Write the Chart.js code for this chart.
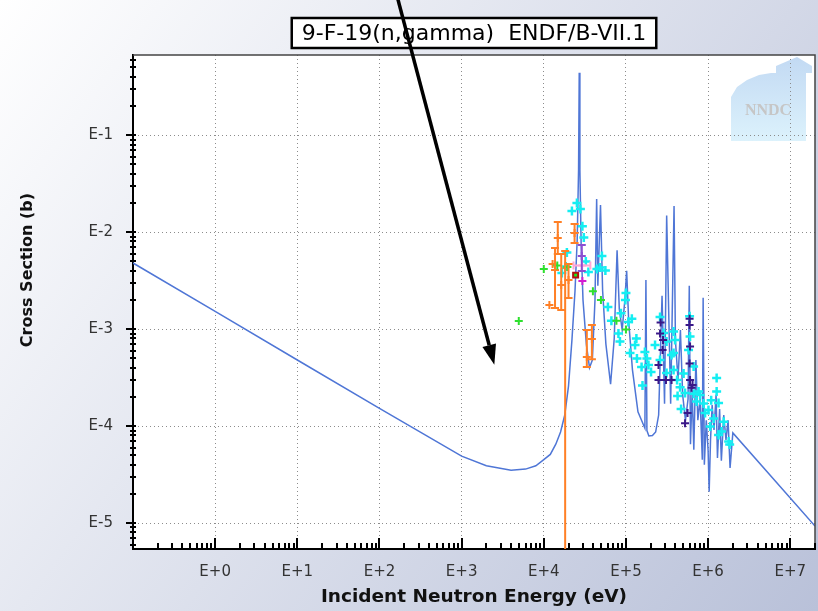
<!DOCTYPE html>
<html>
<head>
<meta charset="utf-8">
<title>9-F-19(n,gamma) ENDF/B-VII.1</title>
<script src="https://cdn.jsdelivr.net/npm/chart.js@4.4.1/dist/chart.umd.min.js"></script>
<style>
  html, body { margin: 0; padding: 0; background: #fff; }
  canvas { display: block; }
</style>
</head>
<body>
<canvas id="xs" width="818" height="611"></canvas>
<script>
// evaluated capture cross section (eV, barns)
const endfE = [0.1, 1, 10, 100, 1000, 2000, 4000, 6000, 8000, 1.0e4, 1.2e4, 1.4e4, 1.6e4, 1.8e4,
  2.0e4, 2.2e4, 2.4e4, 2.55e4, 2.65e4, 2.7e4, 2.75e4, 2.85e4, 3.0e4, 3.3e4, 3.6e4, 3.9e4, 4.2e4,
  4.4e4, 4.55e4, 4.9e4, 5.2e4, 5.7e4, 6.5e4, 7.2e4, 7.8e4, 8.3e4, 9.0e4, 9.7e4, 1.02e5, 1.08e5,
  1.2e5, 1.4e5, 1.7e5, 1.75e5, 1.8e5, 1.9e5, 2.1e5, 2.3e5, 2.5e5, 2.75e5, 2.95e5, 3.13e5, 3.5e5,
  3.85e5, 4.0e5, 4.3e5, 4.6e5, 4.9e5, 5.3e5, 5.7e5, 5.9e5, 6.1e5, 6.4e5, 6.7e5, 7.1e5, 7.5e5,
  8.0e5, 8.5e5, 8.7e5, 9.0e5, 9.5e5, 1.0e6, 1.03e6, 1.07e6, 1.12e6, 1.18e6, 1.25e6, 1.3e6, 1.38e6,
  1.45e6, 1.55e6, 1.65e6, 1.75e6, 1.85e6, 2.0e6, 2.0e7];
const endfXS = [4.8e-3, 1.52e-3, 4.8e-4, 1.52e-4, 4.9e-5, 3.9e-5, 3.5e-5, 3.6e-5, 3.9e-5, 4.5e-5, 5.1e-5, 6.5e-5, 8.7e-5, 1.3e-4,
  2.6e-4, 7.7e-4, 2.5e-3, 8.3e-3, 4.4e-2, 4.4e-1, 4.4e-2, 7.4e-3, 2.0e-3, 6.9e-4, 4.0e-4, 4.8e-4, 2.0e-3,
  2.2e-2, 2.8e-3, 1.9e-2, 2.5e-3, 7.0e-4, 2.7e-4, 8.0e-4, 6.5e-3, 1.6e-3, 9.8e-4, 2.0e-3, 4.0e-3, 1.2e-3,
  3.8e-4, 1.4e-4, 9.5e-5, 3.2e-3, 9.0e-5, 7.9e-5, 8.0e-5, 8.7e-5, 1.3e-4, 2.2e-3, 1.7e-4, 1.48e-2, 1.7e-4,
  1.86e-2, 7.7e-4, 3.0e-4, 9.8e-4, 2.1e-4, 1.15e-4, 1.9e-4, 2.8e-3, 6.5e-5, 2.3e-4, 5.7e-5, 4.8e-4, 1.15e-4,
  1.9e-4, 4.5e-5, 2.1e-3, 4.0e-5, 1.15e-4, 5.6e-5, 2.1e-5, 7.2e-5, 1.65e-4, 9.1e-5, 2.1e-4, 4.7e-5, 1.5e-4,
  4.4e-5, 1.3e-4, 7.2e-5, 1.15e-4, 3.7e-5, 8.5e-5, 9.3e-6];

// measurements (EXFOR)
const orangeE  = [1.17e4, 1.28e4, 1.37e4, 1.48e4, 1.63e4, 1.82e4, 2.0e4, 2.37e4, 3.34e4, 3.85e4];
const orangeXS = [1.77e-3, 4.68e-3, 4.06e-3, 8.67e-3, 2.84e-3, 4.26e-3, 3.2e-3, 9.77e-3, 5.14e-4, 7.9e-4];
const orangeLo = [null, null, 1.65e-3, 5.93e-3, 1.57e-3, 0, 2.09e-3, 7.7e-3, 4.06e-4, 4.9e-4];
const orangeHi = [null, null, 6.84e-3, 1.27e-2, 5.93e-3, 6.37e-3, 4.68e-3, 1.21e-2, 9.77e-4, 1.1e-3];

const violetE = [2.9e4], violetXS = [5.66e-3], violetLo = [3.96e-3], violetHi = [7.35e-3];
const pinkE = [2.93e4], pinkXS = [4.53e-3], pinkELo = [2.3e4], pinkEHi = [3.69e4];
const magentaE = [2.95e4], magentaXS = [3.13e-3];
const limeE = [2.44e4], limeXS = [3.6e-3];

const greenE  = [4.96e3, 1.0e4, 1.46e4, 1.94e4, 3.96e4, 4.96e4, 7.66e4, 1.0e5];
const greenXS = [1.21e-3, 4.16e-3, 4.52e-3, 4.36e-3, 2.46e-3, 1.99e-3, 1.22e-3, 9.88e-4];

const cyanE = [2.53e4, 2.2e4, 2.79e4, 2.95e4, 3.07e4, 1.91e4, 3.25e4, 3.49e4, 4.43e4, 5.10e4, 5.62e4, 4.82e4,
  1.66e4, 1.85e4, 6.03e4, 1.0e5, 9.86e4, 6.65e4, 8.69e4, 1.18e5, 1.07e5, 8.10e4, 8.45e4, 1.34e5, 1.29e5,
  1.12e5, 1.70e5, 1.80e5, 1.36e5, 2.60e5, 2.87e5, 3.12e5, 3.59e5, 1.88e5, 1.55e5, 1.59e5, 3.80e5, 3.96e5,
  3.80e5, 3.12e5, 3.80e5, 4.19e5, 4.56e5, 5.95e5, 6.03e5, 5.78e5, 6.66e5, 7.66e5, 5.24e5, 2.60e5, 5.03e5,
  6.66e5, 7.99e5, 7.24e5, 1.27e6, 1.27e6, 1.34e6, 1.17e6, 1.55e6, 1.46e6, 1.34e6, 1.78e6, 1.06e6, 1.01e6,
  8.81e5, 4.69e5, 4.25e5, 1.83e6, 9.19e5, 1.09e6, 2.26e5, 2.02e5];
const cyanXS = [1.99e-2, 1.65e-2, 1.73e-2, 1.15e-2, 8.78e-3, 6.15e-3, 4.97e-3, 3.87e-3, 4.16e-3, 5.66e-3, 4.01e-3, 4.31e-3,
  3.78e-3, 4.41e-3, 1.69e-3, 2.35e-3, 1.99e-3, 1.22e-3, 1.46e-3, 1.28e-3, 1.18e-3, 8.99e-4, 7.43e-4, 7.98e-4, 6.84e-4,
  5.66e-4, 5.79e-4, 4.97e-4, 4.97e-4, 1.33e-3, 9.09e-4, 7.43e-4, 5.40e-4, 4.26e-4, 4.06e-4, 2.62e-4, 9.42e-4, 7.70e-4,
  5.66e-4, 3.52e-4, 3.78e-4, 2.98e-4, 2.52e-4, 1.36e-3, 8.37e-4, 6.07e-4, 4.11e-4, 2.27e-4, 2.19e-4, 4.79e-4, 3.48e-4,
  2.16e-4, 2.09e-4, 1.79e-4, 3.13e-4, 2.27e-4, 1.73e-4, 1.20e-4, 1.11e-4, 8.78e-5, 8.08e-5, 6.92e-5, 9.88e-5, 1.46e-4,
  1.71e-4, 1.50e-4, 2.04e-4, 6.45e-5, 1.36e-4, 1.85e-4, 6.84e-4, 3.60e-4];

const purpleE  = [2.64e5, 2.60e5, 2.79e5, 2.49e5, 2.49e5, 3.07e5, 3.59e5, 5.95e5, 5.95e5, 6.03e5, 5.95e5, 6.03e5,
  6.29e5, 5.62e5, 5.24e5, 6.47e5, 2.83e5];
const purpleXS = [1.17e-3, 8.99e-4, 6.07e-4, 4.26e-4, 2.98e-4, 2.98e-4, 2.98e-4, 1.28e-3, 1.10e-3, 6.60e-4, 4.41e-4, 2.98e-4,
  2.49e-4, 1.36e-4, 1.07e-4, 2.65e-4, 7.70e-4];

// axes
const xMin = 0.1, xMax = 2e7, yMin = 5.4e-6, yMax = 0.67;
const xTickValues = [1, 10, 100, 1e3, 1e4, 1e5, 1e6, 1e7];
const xTickLabels = ['E+0', 'E+1', 'E+2', 'E+3', 'E+4', 'E+5', 'E+6', 'E+7'];
const yTickValues = [1e-5, 1e-4, 1e-3, 1e-2, 1e-1];
const yTickLabels = ['E-5', 'E-4', 'E-3', 'E-2', 'E-1'];
const minorSteps = [1, 2, 3, 4, 5, 6, 7, 8, 9];

// arrow annotation: tail at the top edge, head in the valley
const arrowTail = { x: 166 };
const arrowHead = { x: 2.5e3, y: 4.3e-4 };

const pts = (xs, ys) => xs.map((x, i) => ({ x, y: ys[i] }));

function marks(label, xs, ys, color, extra) {
  return Object.assign({
    label,
    data: pts(xs, ys),
    borderColor: color,
    backgroundColor: color,
    pointStyle: 'cross',
    pointRadius: 4,
    borderWidth: 2,
  }, extra || {});
}

Chart.defaults.font.family = "'DejaVu Sans', sans-serif";

const errorBars = {
  id: 'errorBars',
  afterDatasetsDraw(chart) {
    const { ctx, chartArea: ca, scales: { x, y } } = chart;
    ctx.save();
    ctx.beginPath();
    ctx.rect(ca.left, ca.top, ca.width, ca.height);
    ctx.clip();
    chart.data.datasets.forEach(ds => {
      if (!ds.errLo && !ds.errELo) return;
      ctx.strokeStyle = ds.borderColor;
      ctx.lineWidth = 2;
      ds.data.forEach((p, i) => {
        const px = x.getPixelForValue(p.x);
        const py = y.getPixelForValue(p.y);
        ctx.beginPath();
        if (ds.errLo && ds.errLo[i] != null) {
          const lo = ds.errLo[i];
          const y1 = y.getPixelForValue(lo);
          const y2 = y.getPixelForValue(ds.errHi[i]);
          ctx.moveTo(px, y1); ctx.lineTo(px, y2);
          ctx.moveTo(px - 4, y2); ctx.lineTo(px + 4, y2);
          if (lo > 0) { ctx.moveTo(px - 4, y1); ctx.lineTo(px + 4, y1); }
        }
        if (ds.errELo && ds.errELo[i] != null) {
          const x1 = x.getPixelForValue(ds.errELo[i]);
          const x2 = x.getPixelForValue(ds.errEHi[i]);
          ctx.moveTo(x1, py); ctx.lineTo(x2, py);
          ctx.moveTo(x1, py - 4); ctx.lineTo(x1, py + 4);
          ctx.moveTo(x2, py - 4); ctx.lineTo(x2, py + 4);
        }
        ctx.stroke();
      });
    });
    ctx.restore();
  }
};

const axisTicks = {
  id: 'axisTicks',
  afterDraw(chart) {
    const { ctx, chartArea: ca, scales: { x, y } } = chart;
    ctx.save();
    ctx.strokeStyle = '#000';
    ctx.lineWidth = 2;
    ctx.beginPath();
    for (let d = Math.floor(Math.log10(xMin)); d <= Math.ceil(Math.log10(xMax)); d++) {
      for (const m of minorSteps) {
        const v = m * Math.pow(10, d);
        if (v <= xMin * 1.0001 || v > xMax) continue;
        const px = Math.round(x.getPixelForValue(v));
        ctx.moveTo(px, ca.bottom);
        ctx.lineTo(px, ca.bottom - (m === 1 ? 11 : 6));
      }
    }
    for (let d = Math.floor(Math.log10(yMin)); d <= Math.ceil(Math.log10(yMax)); d++) {
      for (const m of minorSteps) {
        const v = m * Math.pow(10, d);
        if (v < yMin || v > yMax) continue;
        const py = Math.round(y.getPixelForValue(v));
        ctx.moveTo(ca.left - (m === 1 ? 7 : 3), py);
        ctx.lineTo(ca.left + 3, py);
      }
    }
    ctx.stroke();
    ctx.restore();
  }
};

function drawLogo(ctx, ca) {
  const r = ca.right, t = ca.top;
  const shape = [[-84, 86], [-84, 42], [-78, 32], [-68, 25], [-56, 20], [-44, 18], [-39, 18], [-39, 11],
    [-18, 2], [-3, 11], [-3, 18], [-9, 18], [-9, 86]];
  const g = ctx.createLinearGradient(0, t, 0, t + 86);
  g.addColorStop(0, '#c2d9f3');
  g.addColorStop(1, '#dcf2fc');
  ctx.fillStyle = g;
  ctx.beginPath();
  shape.forEach(([dx, dy], i) => i ? ctx.lineTo(r + dx, t + dy) : ctx.moveTo(r + dx, t + dy));
  ctx.closePath();
  ctx.fill();
  ctx.fillStyle = '#c6c6c6';
  ctx.font = "bold 16px 'Liberation Serif', serif";
  ctx.textAlign = 'center';
  ctx.textBaseline = 'middle';
  ctx.fillText('NNDC', r - 47, t + 56);
}

const decor = {
  id: 'decor',
  beforeDraw(chart) {
    const { ctx, width, height, chartArea: ca } = chart;
    ctx.save();
    const bg = ctx.createLinearGradient(0, 0, width, height);
    bg.addColorStop(0, '#ffffff');
    bg.addColorStop(1, '#b9c1d9');
    ctx.fillStyle = bg;
    ctx.fillRect(0, 0, width, height);
    ctx.fillStyle = '#ffffff';
    ctx.fillRect(ca.left, ca.top, ca.width, ca.height);
    drawLogo(ctx, ca);
    ctx.restore();
  },
  afterDraw(chart) {
    const { ctx, chartArea: ca, scales: { x, y } } = chart;
    ctx.save();

    // top / right frame
    ctx.strokeStyle = '#444';
    ctx.lineWidth = 1.5;
    ctx.beginPath();
    ctx.moveTo(ca.left, ca.top);
    ctx.lineTo(ca.right, ca.top);
    ctx.lineTo(ca.right, ca.bottom);
    ctx.stroke();

    // y axis title
    ctx.fillStyle = '#111';
    ctx.font = "bold 16px 'DejaVu Sans', sans-serif";
    ctx.textAlign = 'center';
    ctx.textBaseline = 'middle';
    ctx.translate(28, 270);
    ctx.rotate(-Math.PI / 2);
    ctx.fillText('Cross Section (b)', 0, 0);
    ctx.setTransform(1, 0, 0, 1, 0, 0);

    // title box
    const title = '9-F-19(n,gamma)  ENDF/B-VII.1';
    ctx.font = "22px 'DejaVu Sans', sans-serif";
    const tw = ctx.measureText(title).width;
    const cx = 474, cy = 33;
    const bw = tw + 20, bh = 30;
    ctx.fillStyle = '#ffffff';
    ctx.fillRect(cx - bw / 2, cy - bh / 2, bw, bh);
    ctx.strokeStyle = '#000';
    ctx.lineWidth = 2.5;
    ctx.strokeRect(cx - bw / 2, cy - bh / 2, bw, bh);
    ctx.fillStyle = '#000';
    ctx.fillText(title, cx, cy + 1);

    // arrow
    const x0 = x.getPixelForValue(arrowTail.x), y0 = -2;
    const x1 = x.getPixelForValue(arrowHead.x), y1 = y.getPixelForValue(arrowHead.y);
    const ang = Math.atan2(y1 - y0, x1 - x0);
    const head = 20, half = 7;
    const bx = x1 - head * Math.cos(ang), by = y1 - head * Math.sin(ang);
    ctx.strokeStyle = '#000';
    ctx.fillStyle = '#000';
    ctx.lineWidth = 3.5;
    ctx.beginPath();
    ctx.moveTo(x0, y0);
    ctx.lineTo(bx, by);
    ctx.stroke();
    ctx.beginPath();
    ctx.moveTo(x1, y1);
    ctx.lineTo(bx + half * Math.sin(ang), by - half * Math.cos(ang));
    ctx.lineTo(bx - half * Math.sin(ang), by + half * Math.cos(ang));
    ctx.closePath();
    ctx.fill();

    ctx.restore();
  }
};

new Chart(document.getElementById('xs'), {
  type: 'scatter',
  data: {
    datasets: [
      marks('magenta', magentaE, magentaXS, '#d21cd2'),
      marks('lime', limeE, limeXS, '#1ee81e', { pointStyle: 'rect', pointRadius: 3.5, borderColor: '#b01010' }),
      marks('pink', pinkE, pinkXS, '#ffa6d6', { errELo: pinkELo, errEHi: pinkEHi }),
      marks('violet', violetE, violetXS, '#8c4fd2', { errLo: violetLo, errHi: violetHi }),
      marks('purple', purpleE, purpleXS, '#3a1888'),
      marks('green', greenE, greenXS, '#2ee02e'),
      marks('cyan', cyanE, cyanXS, '#14eef2', { pointRadius: 4.5, borderWidth: 2.5 }),
      marks('orange', orangeE, orangeXS, '#ff8026', { errLo: orangeLo, errHi: orangeHi }),
      {
        label: 'ENDF/B-VII.1',
        data: pts(endfE, endfXS),
        showLine: true,
        borderColor: '#4f76d6',
        borderWidth: 1.5,
        pointRadius: 0,
        tension: 0,
      },
    ]
  },
  options: {
    responsive: false,
    animation: false,
    events: [],
    layout: { autoPadding: false, padding: { top: 55, right: 3, bottom: 0, left: 0 } },
    plugins: {
      legend: { display: false },
      tooltip: { enabled: false },
    },
    scales: {
      x: {
        type: 'logarithmic',
        min: xMin,
        max: xMax,
        afterBuildTicks: s => { s.ticks = xTickValues.map(value => ({ value })); },
        afterFit: s => { s.height = 62; s.paddingLeft = 0; s.paddingRight = 0; },
        ticks: {
          callback: (v, i) => xTickLabels[i],
          autoSkip: false,
          maxRotation: 0,
          padding: 14,
          color: '#333',
          font: { size: 15 },
        },
        grid: { color: '#8c8c8c', lineWidth: 1, drawTicks: false },
        border: { display: true, color: '#000', width: 2, dash: [1, 3] },
        title: {
          display: true,
          text: 'Incident Neutron Energy (eV)',
          color: '#111',
          font: { size: 18.5, weight: 'bold' },
          padding: { top: 0, bottom: 3 },
        },
      },
      y: {
        type: 'logarithmic',
        min: yMin,
        max: yMax,
        afterBuildTicks: s => { s.ticks = yTickValues.map(value => ({ value })); },
        afterFit: s => { s.width = 133; s.paddingTop = 0; s.paddingBottom = 0; },
        ticks: {
          callback: (v, i) => yTickLabels[i],
          autoSkip: false,
          padding: 20,
          color: '#333',
          font: { size: 15 },
        },
        grid: { color: '#8c8c8c', lineWidth: 1, drawTicks: false },
        border: { display: true, color: '#000', width: 2, dash: [1, 3] },
      },
    },
  },
  plugins: [decor, errorBars, axisTicks],
});
</script>
</body>
</html>
